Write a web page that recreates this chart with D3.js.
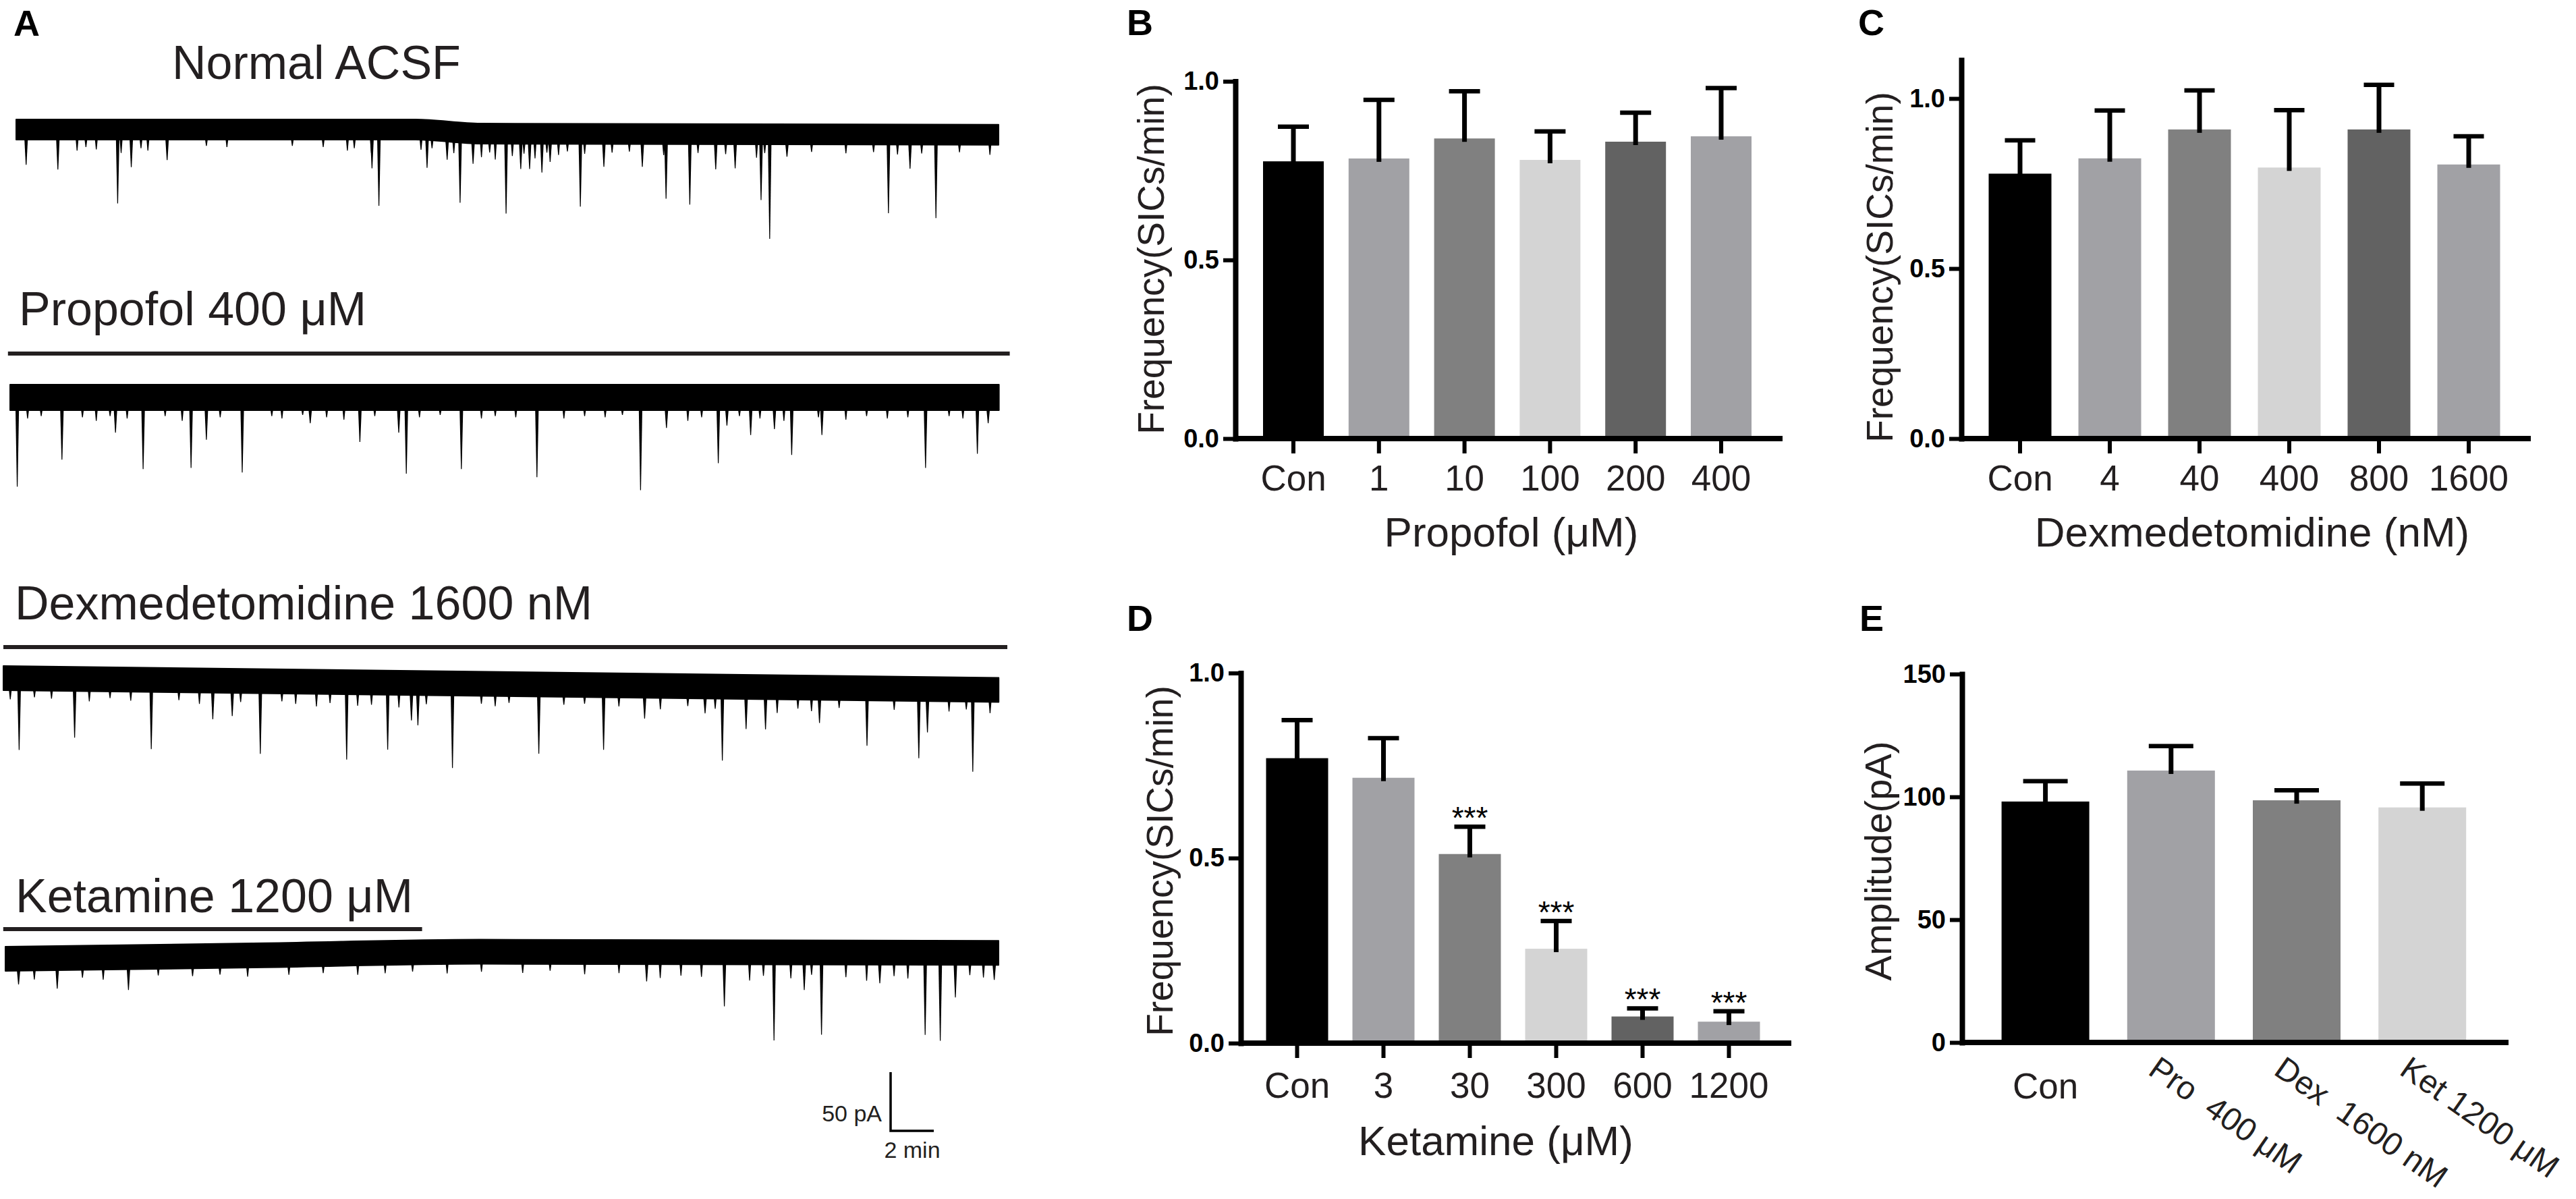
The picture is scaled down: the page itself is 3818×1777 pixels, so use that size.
<!DOCTYPE html>
<html>
<head>
<meta charset="utf-8">
<script src="https://cdn.jsdelivr.net/npm/d3@7"></script>
<style>
  html, body { margin: 0; padding: 0; background: #fff; }
  svg { display: block; font-family: "Liberation Sans", Arial, Helvetica, sans-serif; }
</style>
</head>
<body>
<svg id="fig" width="3818" height="1777"></svg>
<script>
// ---------- data ----------
// panel A: spontaneous SICs, [minute, amplitude pA below baseline]
const acsfSpikes = [[0.46,30],[1.93,34],[4.70,63],[5.33,32],[6.99,26],[16.48,33],[16.80,65],[19.03,32],[19.96,24],[20.56,60],[21.16,26],[22.69,68],[23.37,30],[23.78,30],[24.35,33],[24.73,24],[26.13,62],[27.22,28],[29.0,28],[30.1,55],[31.2,60],[32.4,30],[33.3,29],[34.5,56],[34.9,89],[35.7,19],[40.4,67],[41.4,29],[42.6,71]];
const propSpikes = [[0.33,76],[2.40,53],[4.88,30],[6.16,61],[8.38,60],[9.09,36],[10.75,64],[13.9,22],[16.2,38],[18.0,30],[18.35,65],[20.9,61],[24.4,68],[29.2,79],[30.4,26],[32.8,56],[33.2,24],[34.3,32],[35.4,27],[36.2,49],[37.6,32],[42.4,60],[44.8,48],[45.3,22]];
const dexSpikes = [[0.73,61],[3.3,50],[6.85,59],[9.7,33],[10.6,30],[11.9,62],[15.9,66],[17.8,57],[18.9,32],[19.2,36],[20.8,72],[24.8,59],[27.8,55],[29.7,28],[32.5,23],[33.3,63],[34.4,36],[35.3,36],[37.8,30],[40.0,49],[42.4,59],[42.8,37],[44.9,70]];
const ketSpikes = [[0.61,22],[2.4,26],[5.7,28],[29.7,25],[33.3,46],[35.6,75],[37.0,32],[37.8,70],[40.5,26],[42.6,70],[43.3,75],[44.0,38],[45.8,23]];
// small events just under the noise band
const acsfSmall = [[2.82,18],[3.23,15],[3.71,17],[4.86,20],[5.78,16],[6.1,18],[8.81,14],[9.76,15],[12.79,14],[14.22,15],[15.34,18],[15.66,16],[16.45,20],[18.75,17],[19.26,15],[20.27,18],[21.55,20],[21.93,16],[22.19,22],[22.98,19],[23.52,17],[24.03,21],[24.58,16],[25.12,18],[25.53,15],[26.33,17],[27.6,16],[28.4,15],[29.99,18],[31.58,16],[32.86,17],[34.29,20],[34.67,16],[36.84,15],[38.43,16],[39.71,15],[40.82,17],[41.94,16],[43.69,15],[45.1,17]];
const propSmall = [[0.81,18],[1.44,16],[3.35,17],[3.99,20],[4.63,16],[5.42,18],[7.18,16],[7.97,20],[9.73,17],[12.12,16],[12.59,18],[13.55,15],[14.66,17],[15.46,19],[16.89,16],[18.96,17],[19.92,15],[21.83,18],[22.47,16],[23.42,17],[25.65,18],[26.61,16],[27.56,17],[28.36,15],[31.39,20],[32.03,17],[33.78,16],[34.73,18],[35.84,20],[37.44,17],[38.71,19],[39.67,16],[40.63,18],[41.58,17],[43.49,16],[44.13,18]];
const dexSmall = [[0.32,18],[1.44,16],[2.23,17],[3.98,19],[4.94,16],[5.9,18],[8.13,17],[9.08,20],[10.99,18],[12.9,17],[13.54,19],[14.5,21],[15.13,18],[16.41,20],[17.05,19],[18.32,21],[19.59,18],[22.14,17],[22.78,19],[23.42,16],[25.96,17],[26.92,16],[28.51,18],[30.43,20],[31.7,17],[32.97,19],[35.84,22],[36.8,18],[37.43,20],[38.71,17],[41.26,18],[43.8,19],[44.6,17],[45.7,20]];
const ketSmall = [[1.34,18],[3.57,17],[4.53,19],[7.08,16],[8.67,17],[9.94,16],[11.22,18],[13.13,17],[14.72,16],[16.32,18],[17.59,17],[18.86,16],[20.46,18],[22.05,17],[23.96,18],[25.23,16],[26.83,19],[28.42,18],[30.33,22],[31.29,20],[32.24,21],[34.47,24],[35.11,20],[36.38,22],[37.34,19],[38.93,21],[39.89,24],[41.16,20],[41.8,22],[44.67,19],[45.3,21]];
// baseline drift, [minute, pA]
const acsfDrift = [[0,0],[18.5,0],[21.5,-3.5],[45.5,-4.5]];
const propDrift = [[0,0],[45.8,0]];
const dexDrift  = [[0,0],[46.1,-10]];
const ketDrift  = [[0,0],[12,3],[22,6],[46.0,5]];
const traceLabels = ['Normal ACSF','Propofol 400 μM','Dexmedetomidine 1600 nM','Ketamine 1200 μM'];
// drug application bars [start, end] in minutes of the trace below
const drugPeriods = [null,[-0.1,46.3],[0,46.5],[-0.1,19.3]];
const scaleBarPA = 50, scaleBarMin = 2;

// panel B
const propofolCats = ['Con','1','10','100','200','400'];
const propofolFreq = [0.776,0.784,0.840,0.780,0.831,0.846];
const propofolSem  = [0.097,0.164,0.132,0.080,0.081,0.135];
// panel C
const dexCats = ['Con','4','40','400','800','1600'];
const dexFreq = [0.779,0.824,0.909,0.797,0.909,0.806];
const dexSem  = [0.098,0.141,0.115,0.169,0.131,0.083];
// panel D
const ketCats = ['Con','3','30','300','600','1200'];
const ketFreq = [0.770,0.717,0.511,0.255,0.072,0.058];
const ketSem  = [0.103,0.107,0.074,0.075,0.022,0.028];
const ketStars = ['','','***','***','***','***'];
// panel E
const ampCats = ['Con','Pro  400 μM','Dex  1600 nM','Ket 1200 μM'];
const ampVal  = [98.1,110.7,98.6,95.7];
const ampSem  = [8.3,10.0,4.1,9.7];

const freqTicks = [0, 0.5, 1.0];
const ampTicks  = [0, 50, 100, 150];

const sixGrays  = ['#000000','#a1a1a5','#808080','#d4d4d4','#626262','#a1a1a5'];
const fourGrays = ['#000000','#a1a1a5','#808080','#d4d4d4'];

// ---------- drawing ----------
const INK = '#231f20';
const svg = d3.select('#fig');

function label(txt, x, y, size, opts = {}) {
  return svg.append('text')
    .attr('x', x).attr('y', y)
    .attr('text-anchor', opts.anchor || 'start')
    .attr('transform', opts.rotate ? `rotate(${opts.rotate},${x},${y})` : null)
    .style('font-size', size + 'px')
    .style('font-weight', opts.bold ? 700 : 400)
    .style('white-space', 'pre')
    .attr('fill', opts.fill || INK)
    .text(txt);
}

// panel letters
[['A',20,53],['B',1670,52],['C',2754,52],['D',1670,935],['E',2756,935]]
  .forEach(d => label(d[0], d[1], d[2], 54, {bold: true, fill: '#000'}));

// ----- panel A traces -----
const PX_PER_MIN = 32, PX_PER_PA = 1.74;
const traceLayout = [
  {spikes: acsfSpikes, small: acsfSmall, drift: acsfDrift, x0: 24, y0: 192, half: 15, label: [255, 117], bar: null},
  {spikes: propSpikes, small: propSmall, drift: propDrift, x0: 15, y0: 589, half: 19, label: [28, 482], bar: 524},
  {spikes: dexSpikes,  small: dexSmall,  drift: dexDrift,  x0: 5,  y0: 1005, half: 18, label: [22, 918], bar: 959},
  {spikes: ketSpikes,  small: ketSmall,  drift: ketDrift,  x0: 8,  y0: 1421, half: 18, label: [23, 1352], bar: 1377}
];

let lastScales = null;
traceLayout.forEach((t, i) => {
  const dur = t.drift[t.drift.length - 1][0];
  const x = d3.scaleLinear().domain([0, dur]).range([t.x0, t.x0 + dur * PX_PER_MIN]);
  const y = d3.scaleLinear().domain([0, -50]).range([t.y0, t.y0 + 50 * PX_PER_PA]);
  const level = d3.scaleLinear().domain(t.drift.map(d => d[0])).range(t.drift.map(d => d[1]));
  const g = svg.append('g');

  const band = d3.area()
    .x(d => x(d[0]))
    .y0(d => y(d[1]) - t.half)
    .y1(d => y(d[1]) + t.half)
    .curve(d3.curveMonotoneX);
  g.append('path').datum(t.drift).attr('d', band)
    .attr('fill', '#000').attr('stroke', '#000').attr('stroke-width', 2).attr('stroke-linejoin', 'round');

  const spike = (w) => d => {
    const sx = x(d[0]), root = y(level(d[0])) + t.half - 2, tip = y(level(d[0]) - d[1]);
    return `M${sx - w},${root}L${sx - 0.6},${tip}L${sx + 0.6},${tip}L${sx + w},${root}Z`;
  };
  g.selectAll('path.small').data(t.small).join('path')
    .attr('class', 'small').attr('d', spike(2.2)).attr('fill', '#000');
  g.selectAll('path.spk').data(t.spikes).join('path')
    .attr('class', 'spk').attr('d', spike(2.6)).attr('fill', '#000');

  label(traceLabels[i], t.label[0], t.label[1], 70);
  if (t.bar !== null) {
    const p = drugPeriods[i];
    g.append('line')
      .attr('x1', x(p[0])).attr('x2', x(p[1]))
      .attr('y1', t.bar).attr('y2', t.bar)
      .attr('stroke', INK).attr('stroke-width', 6);
  }
  lastScales = {x, y};
});

// scale bar, sized by the trace scales
{
  const sx = 1320, sy = 1676;
  const h = Math.abs(lastScales.y(-scaleBarPA) - lastScales.y(0));
  const w = lastScales.x(scaleBarMin) - lastScales.x(0);
  svg.append('path').attr('d', `M${sx},${sy - h}V${sy}H${sx + w}`)
    .attr('fill', 'none').attr('stroke', '#000').attr('stroke-width', 3.5);
  label(scaleBarPA + ' pA', sx - 13, sy - 14, 34, {anchor: 'end'});
  label(scaleBarMin + ' min', sx + w / 2, sy + 40, 34, {anchor: 'middle'});
}

// ----- bar panels -----
function barPanel(c) {
  const g = svg.append('g');
  const y = d3.scaleLinear().domain([0, c.yMax]).range([c.zeroY, c.zeroY - c.yMax * c.pxPerUnit]);
  const pad = 1 - c.bw / c.step;
  const start = c.c0 - c.step / 2;
  const x = d3.scaleBand().domain(c.cats)
    .range([start, start + c.cats.length * c.step])
    .paddingInner(pad).paddingOuter(pad / 2);
  const mid = d => x(d) + x.bandwidth() / 2;

  // bars
  g.selectAll('rect.bar').data(c.cats).join('rect')
    .attr('class', 'bar')
    .attr('x', d => x(d)).attr('width', x.bandwidth())
    .attr('y', (d, i) => y(c.vals[i]))
    .attr('height', (d, i) => y(0) - y(c.vals[i]))
    .attr('fill', (d, i) => c.colors[i]);

  // upper SEM bars
  g.selectAll('line.err').data(c.cats).join('line')
    .attr('class', 'err')
    .attr('x1', mid).attr('x2', mid)
    .attr('y1', (d, i) => y(c.vals[i]) + 5)
    .attr('y2', (d, i) => y(c.vals[i] + c.sems[i]))
    .attr('stroke', '#000').attr('stroke-width', 7);
  g.selectAll('line.cap').data(c.cats).join('line')
    .attr('class', 'cap')
    .attr('x1', d => mid(d) - c.capW / 2).attr('x2', d => mid(d) + c.capW / 2)
    .attr('y1', (d, i) => y(c.vals[i] + c.sems[i]))
    .attr('y2', (d, i) => y(c.vals[i] + c.sems[i]))
    .attr('stroke', '#000').attr('stroke-width', 6.5);

  if (c.stars) {
    g.selectAll('text.star').data(c.cats).join('text')
      .attr('class', 'star')
      .attr('x', mid)
      .attr('y', (d, i) => y(c.vals[i] + c.sems[i]) + 3)
      .attr('text-anchor', 'middle')
      .style('font-size', '46px')
      .attr('fill', '#000')
      .text((d, i) => c.stars[i]);
  }

  // y axis
  const ya = g.append('g').attr('transform', `translate(${c.axisX},0)`)
    .call(d3.axisLeft(y).tickValues(c.ticks).tickFormat(c.fmt).tickSize(18).tickSizeOuter(0).tickPadding(6));
  ya.select('.domain').attr('stroke', '#000').attr('stroke-width', 8).attr('stroke-linecap', 'square');
  ya.selectAll('.tick line').attr('stroke', '#000').attr('stroke-width', 6);
  ya.selectAll('.tick text').attr('fill', '#000')
    .style('font-size', '38px').style('font-weight', 700)
    .style('font-family', '"Liberation Sans", Arial, sans-serif');

  // x axis line
  g.append('line')
    .attr('x1', c.axisX).attr('x2', c.xEnd)
    .attr('y1', y(0)).attr('y2', y(0))
    .attr('stroke', '#000').attr('stroke-width', 8);

  const xa = g.append('g').attr('transform', `translate(0,${y(0)})`)
    .call(d3.axisBottom(x).tickSize(c.xTicks ? 22 : 0).tickSizeOuter(0));
  xa.select('.domain').remove();
  xa.selectAll('.tick line').attr('stroke', '#000').attr('stroke-width', 6);
  xa.selectAll('.tick text')
    .attr('fill', INK).attr('dy', 0)
    .style('font-size', c.tickFont + 'px')
    .style('font-family', '"Liberation Sans", Arial, sans-serif')
    .style('white-space', 'pre')
    .attr('y', c.tickLabelY - c.zeroY);
  if (c.slant) {
    xa.selectAll('.tick text').filter((d, i) => i > 0)
      .attr('text-anchor', 'start').attr('y', 0)
      .style('font-size', c.slant.font + 'px')
      .attr('transform', `translate(${c.slant.dx},${c.slant.dy}) rotate(${c.slant.angle})`);
  }

  // titles
  if (c.title) label(c.title, c.titleX, c.titleY, 62, {anchor: 'middle'});
  label(c.yTitle, c.yTitleX, c.yTitleY, c.yTitleFont, {anchor: 'middle', rotate: -90});
}

const fmt1 = d3.format('.1f');

barPanel({cats: propofolCats, vals: propofolFreq, sems: propofolSem, colors: sixGrays,
  axisX: 1831, xEnd: 2642, zeroY: 650, pxPerUnit: 529.5, yMax: 1, ticks: freqTicks, fmt: fmt1,
  c0: 1917, step: 126.8, bw: 90, capW: 46, xTicks: true, tickFont: 53, tickLabelY: 727,
  title: 'Propofol (μM)', titleX: 2240, titleY: 810,
  yTitle: 'Frequency(SICs/min)', yTitleX: 1725, yTitleY: 384, yTitleFont: 55});

barPanel({cats: dexCats, vals: dexFreq, sems: dexSem, colors: sixGrays,
  axisX: 2907, xEnd: 3751, zeroY: 650, pxPerUnit: 504, yMax: 1.113, ticks: freqTicks, fmt: fmt1,
  c0: 2994, step: 133, bw: 93, capW: 45, xTicks: true, tickFont: 53, tickLabelY: 727,
  title: 'Dexmedetomidine (nM)', titleX: 3338, titleY: 810,
  yTitle: 'Frequency(SICs/min)', yTitleX: 2805, yTitleY: 396, yTitleFont: 55});

barPanel({cats: ketCats, vals: ketFreq, sems: ketSem, colors: sixGrays, stars: ketStars,
  axisX: 1839, xEnd: 2655, zeroY: 1546, pxPerUnit: 548.5, yMax: 1, ticks: freqTicks, fmt: fmt1,
  c0: 1922.5, step: 128, bw: 92, capW: 46, xTicks: true, tickFont: 53, tickLabelY: 1627,
  title: 'Ketamine (μM)', titleX: 2217, titleY: 1712,
  yTitle: 'Frequency(SICs/min)', yTitleX: 1738, yTitleY: 1276, yTitleFont: 55});

barPanel({cats: ampCats, vals: ampVal, sems: ampSem, colors: fourGrays,
  axisX: 2908, xEnd: 3718, zeroY: 1545, pxPerUnit: 546 / 150, yMax: 150, ticks: ampTicks, fmt: d3.format('d'),
  c0: 3031.6, step: 186.2, bw: 130, capW: 66, xTicks: false, tickFont: 53, tickLabelY: 1628,
  slant: {dx: -36, dy: 46, angle: 35, font: 48},
  yTitle: 'Amplitude(pA)', yTitleX: 2803, yTitleY: 1276, yTitleFont: 56});
</script>
</body>
</html>
